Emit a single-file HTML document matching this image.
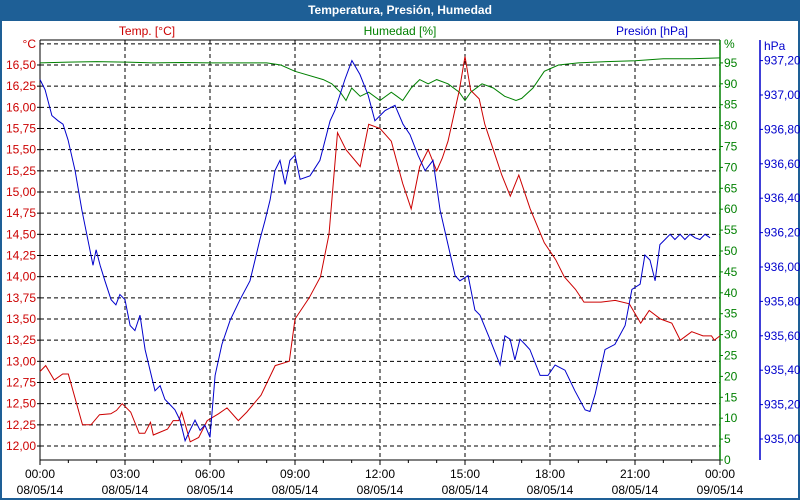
<!DOCTYPE html>
<html><head><meta charset="utf-8"><style>
body{margin:0;width:800px;height:500px;overflow:hidden;background:#fff;font-family:"Liberation Sans",sans-serif}
#frame{position:absolute;left:0;top:0;width:800px;height:500px;box-sizing:border-box;border:2px solid #1e5f96;border-top:none}
#title{position:absolute;left:0;top:0;width:800px;height:21px;background:#1e5f96;color:#fff;font-weight:bold;font-size:12px;text-align:center;line-height:21px}
svg{position:absolute;left:0;top:0}
</style></head><body>
<div id="frame"></div>
<div id="title">Temperatura, Presión, Humedad</div>
<svg id="c" width="800" height="500"></svg>
<script>
const tempT=[0,0.2,0.5,0.8,1.0,1.5,1.8,2.1,2.5,2.7,2.9,3.2,3.5,3.7,3.9,4.0,4.5,4.7,4.9,5.0,5.3,5.6,5.9,6.3,6.6,7.0,7.3,7.8,8.3,8.8,9.0,9.5,9.9,10.2,10.5,10.8,11.3,11.6,12.0,12.4,12.8,13.1,13.4,13.7,14.0,14.2,14.4,14.8,15.0,15.2,15.5,15.7,16.0,16.3,16.6,16.9,17.3,17.8,18.2,18.5,18.9,19.2,19.8,20.3,20.8,21.2,21.5,21.9,22.3,22.6,23.0,23.4,23.7,23.8,24];
const tempV=[12.88,12.95,12.78,12.85,12.85,12.25,12.25,12.37,12.38,12.42,12.5,12.4,12.15,12.15,12.28,12.13,12.2,12.3,12.3,12.4,12.05,12.1,12.3,12.38,12.45,12.3,12.4,12.6,12.95,13.0,13.5,13.75,14.0,14.5,15.7,15.5,15.3,15.8,15.75,15.6,15.1,14.8,15.3,15.5,15.25,15.4,15.6,16.2,16.6,16.2,16.1,15.8,15.5,15.2,14.95,15.2,14.8,14.4,14.2,14.0,13.85,13.7,13.7,13.72,13.68,13.45,13.6,13.5,13.45,13.25,13.35,13.3,13.3,13.25,13.3];
const humT=[0,1,2,3,4,5,6,7,8,8.5,9,10,10.3,10.6,10.8,11,11.3,11.6,12,12.4,12.6,12.8,13.1,13.4,13.7,14,14.4,14.8,15.0,15.2,15.6,16,16.4,16.8,17.0,17.4,17.8,18.3,19,20,21,22,23,24];
const humV=[95,95.2,95.3,95.2,95,95.1,95,95,95,94.5,93,91,90,88,86,89,87,88,86,88,87,86,89,91,90,91,90,88,86,88,90,89,87,86,86.5,89,93,94.5,95,95.3,95.5,96,96,96.2];
const presT=[0,0.18,0.42,0.64,0.81,0.99,1.24,1.48,1.76,1.87,1.98,2.12,2.29,2.51,2.68,2.82,3.0,3.18,3.35,3.53,3.71,4.06,4.24,4.41,4.59,4.76,4.94,5.12,5.29,5.47,5.65,5.82,6.0,6.18,6.42,6.71,7.06,7.41,7.59,7.76,7.94,8.12,8.29,8.47,8.65,8.82,9.0,9.18,9.53,9.88,10.24,10.41,10.76,11.01,11.29,11.58,11.82,12.18,12.53,12.81,13.06,13.34,13.59,13.87,14.12,14.4,14.65,14.82,15.11,15.35,15.53,15.88,16.24,16.41,16.59,16.76,16.94,17.12,17.29,17.65,17.93,18.18,18.53,18.88,19.24,19.41,19.59,19.94,20.29,20.65,20.89,21.18,21.35,21.53,21.71,21.88,22.06,22.24,22.41,22.59,22.76,22.94,23.12,23.29,23.47,23.65];
const presV=[937.09,937.03,936.88,936.85,936.83,936.74,936.56,936.33,936.10,936.01,936.10,936.01,935.92,935.81,935.78,935.84,935.81,935.66,935.63,935.72,935.52,935.28,935.31,935.23,935.20,935.17,935.11,934.99,935.05,935.11,935.05,935.08,935.01,935.37,935.55,935.69,935.81,935.92,936.04,936.16,936.27,936.39,936.56,936.62,936.48,936.62,936.65,936.51,936.53,936.62,936.85,936.91,937.09,937.20,937.12,937.00,936.85,936.91,936.94,936.83,936.77,936.65,936.56,936.62,936.33,936.13,935.95,935.92,935.95,935.75,935.72,935.58,935.43,935.60,935.58,935.46,935.58,935.55,935.52,935.37,935.37,935.43,935.40,935.28,935.17,935.16,935.26,935.52,935.55,935.66,935.87,935.90,936.07,936.04,935.92,936.13,936.16,936.19,936.16,936.19,936.16,936.19,936.17,936.16,936.19,936.17];
const tempTicks=["12,00","12,25","12,50","12,75","13,00","13,25","13,50","13,75","14,00","14,25","14,50","14,75","15,00","15,25","15,50","15,75","16,00","16,25","16,50"];
const humTicks=[0,5,10,15,20,25,30,35,40,45,50,55,60,65,70,75,80,85,90,95];
const presTicks=["935,00","935,20","935,40","935,60","935,80","936,00","936,20","936,40","936,60","936,80","937,00","937,20"];
const xTicks=["00:00","03:00","06:00","09:00","12:00","15:00","18:00","21:00","00:00"];
const xDates=["08/05/14","08/05/14","08/05/14","08/05/14","08/05/14","08/05/14","08/05/14","08/05/14","09/05/14"];

const L=40,R=720,T=40,B=460;
const X=h=>L+h*(R-L)/24;
const YT=v=>446-(v-12)*84.67;
const YH=v=>460-v*4.18;
const YP=v=>439-(v-935)*172;
const svg=document.getElementById('c');
const NS='http://www.w3.org/2000/svg';
function mk(tag,a,parent){const e=document.createElementNS(NS,tag);for(const k in a)e.setAttribute(k,a[k]);(parent||svg).appendChild(e);return e;}
function txt(s,x,y,fill,anchor){const e=mk('text',{x:x,y:y,fill:fill,'font-size':12,'text-anchor':anchor||'start','font-family':'Liberation Sans, sans-serif'});e.textContent=s;return e;}

const grid=mk('g',{});


for(let i=0;i<=19;i++){const y=YT(12+i*0.25);mk('line',{x1:L,x2:R,y1:y,y2:y,stroke:'#000','stroke-dasharray':'4,3','stroke-width':1},grid);}
for(let i=1;i<8;i++){const x=X(i*3);mk('line',{x1:x,x2:x,y1:T,y2:B,stroke:'#000','stroke-dasharray':'4,3','stroke-width':1},grid);}
const ax=mk('g',{});


mk('line',{x1:L,x2:R,y1:T,y2:T,stroke:'#000'},ax);
mk('line',{x1:L,x2:L,y1:T,y2:B,stroke:'#000'},ax);
mk('line',{x1:L,x2:R,y1:B,y2:B,stroke:'#000'},ax);
mk('line',{x1:R,x2:R,y1:T,y2:B,stroke:'#008000','stroke-width':1.5},ax);
mk('line',{x1:760,x2:760,y1:T,y2:B,stroke:'#0000cc','stroke-width':1.5},ax);
for(let h=0;h<=24;h++){const x=X(h);mk('line',{x1:x,x2:x,y1:B,y2:B+(h%3==0?5:3),stroke:'#000'},ax);}
tempTicks.forEach((s,i)=>{const y=YT(12+i*0.25);mk('line',{x1:L-3,x2:L,y1:y,y2:y,stroke:'#000'},ax);const t=txt(s,36,y+4,'#cc0000','end');});
txt('°C',36,48,'#cc0000','end');
humTicks.forEach(v=>{const y=YH(v);mk('line',{x1:R,x2:R+3,y1:y,y2:y,stroke:'#008000'},ax);const t=txt(String(v),724,y+4,'#008000');});
txt('%',724,48,'#008000');
presTicks.forEach((s,i)=>{const y=YP(935+i*0.2);mk('line',{x1:760,x2:763,y1:y,y2:y,stroke:'#0000cc'},ax);const t=txt(s,764,y+4,'#0000cc');});
txt('hPa',764,50,'#0000cc');
xTicks.forEach((s,i)=>{const x=X(i*3);const t=txt(s,x,478,'#000','middle');txt(xDates[i],x,494,'#000','middle');});
let h;
h=txt('Temp. [°C]',147,35,'#cc0000','middle');
h=txt('Humedad [%]',400,35,'#008000','middle');
h=txt('Presión [hPa]',652,35,'#0000cc','middle');

function line(ts,vs,Y,color,name){const p=ts.map((t,i)=>X(t).toFixed(1)+','+Y(vs[i]).toFixed(1)).join(' ');const e=mk('polyline',{points:p,fill:'none',stroke:color,'stroke-width':1});}
line(humT,humV,YH,'#008000','humidity-line');
line(tempT,tempV,YT,'#cc0000','temperature-line');
line(presT,presV,YP,'#0000cc','pressure-line');
</script>
</body></html>
